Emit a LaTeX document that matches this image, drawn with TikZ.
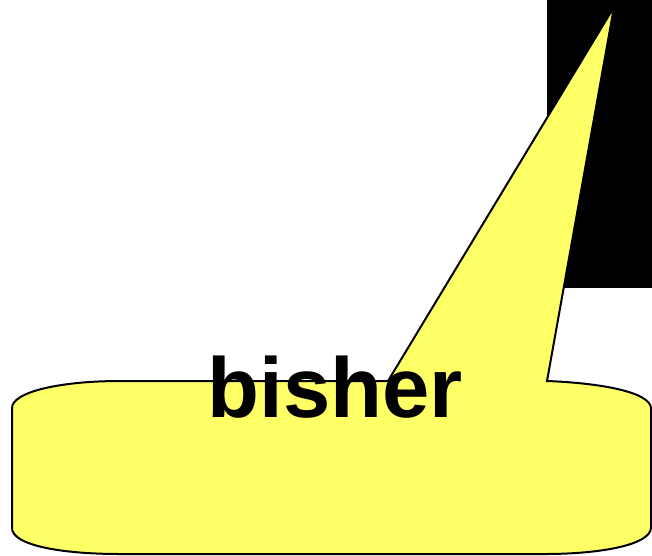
\documentclass[tikz,border=0pt]{standalone}
\usepackage{fontspec}
\setmainfont{Liberation Sans}
\definecolor{calloutyellow}{RGB}{255,255,102}
\begin{document}
\begin{tikzpicture}[x=1pt,y=-1pt,
  callout/.style={draw=black,fill=calloutyellow,line width=2pt,line join=miter},
  label/.style={font=\fontsize{85}{100}\selectfont\bfseries,inner sep=0pt,anchor=base}]
\useasboundingbox (0,0) rectangle (652,555);
\fill[black] (547,0) rectangle (652,288);
\draw[callout] (388,381) -- (614,7) -- (547,381)
  .. controls (600,383) and (650,392) .. (651,408)
  -- (651,528)
  .. controls (650,545) and (600,554) .. (545,554)
  -- (120,554)
  .. controls (60,554) and (12,545) .. (12,528)
  -- (12,408)
  .. controls (12,392) and (60,381) .. (120,381)
  -- cycle;
\node[label] (t) at (335,417) {bisher};
\end{tikzpicture}
\end{document}
